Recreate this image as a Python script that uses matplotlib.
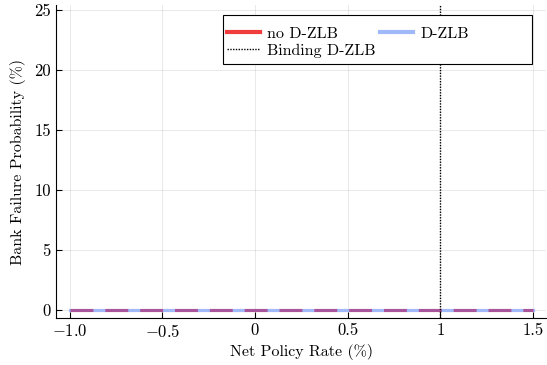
import matplotlib
matplotlib.use('Agg')
import matplotlib.pyplot as plt
from matplotlib.lines import Line2D
from matplotlib.patches import Rectangle

# 値
rates = [-1.0, -0.5, 0.0, 0.5, 1.0, 1.5]
prob_no_dzlb = [0.0, 0.0, 0.0, 0.0, 0.0, 0.0]
prob_dzlb = [0.0, 0.0, 0.0, 0.0, 0.0, 0.0]
binding_rate = 1.0
xtick_vals = [-1.0, -0.5, 0.0, 0.5, 1.0, 1.5]
xtick_labels = ['$-1.0$', '$-0.5$', '0', '0.5', '1', '1.5']
ytick_vals = [0, 5, 10, 15, 20, 25]

plt.rcParams['font.family'] = ['cmr10', 'DejaVu Serif']
plt.rcParams['mathtext.fontset'] = 'cm'
plt.rcParams['axes.unicode_minus'] = False

red = '#f03c3c'
blue = '#a0b9f8'
purple = '#a8559c'

fig = plt.figure(figsize = (5.47, 3.65), dpi = 100)
ax = fig.add_axes([0.102, 0.128, 0.897, 0.858])

ax.plot(rates, prob_no_dzlb, color = red, lw = 2.2)
ax.plot(rates, prob_dzlb, color = blue, lw = 2.2)
ax.plot(rates, prob_no_dzlb, color = purple, lw = 2.2, dashes = (7.5, 3.9))
ax.axvline(binding_rate, color = 'black', lw = 1.0, ls = (0, (1, 1)))

ax.set_xlim(-1.074, 1.572)
ax.set_ylim(-0.72, 25.4)
ax.set_xticks(xtick_vals)
ax.set_xticklabels(xtick_labels)
ax.set_yticks(ytick_vals)
ax.tick_params(direction = 'in', length = 4, width = 0.8, labelsize = 12)
ax.grid(True, color = 'black', alpha = 0.1, lw = 0.6)
for s in ('top', 'right'):
    ax.spines[s].set_visible(False)
ax.set_xlabel('Net Policy Rate (%)', fontsize = 11.5, labelpad = 3)
ax.set_ylabel('Bank Failure Probability (%)', fontsize = 11.5, labelpad = 6)

# 凡例の枠は中身より広いので別に描く
ax.add_patch(Rectangle((0.340, 0.812), 0.630, 0.156, transform = ax.transAxes,
    facecolor = 'white', edgecolor = 'black', lw = 0.8, zorder = 4.5, clip_on = False))

# 凡例は行方向に並べたいので列順で渡す
handles = [Line2D([], [], color = red, lw = 3),
           Line2D([], [], color = 'black', lw = 1.0, ls = (0, (1, 1))),
           Line2D([], [], color = blue, lw = 3)]
labels = ['no D-ZLB', 'Binding D-ZLB', 'D-ZLB']
leg = ax.legend(handles, labels, ncol = 2, loc = 'upper left',
    bbox_to_anchor = (0.349, 0.932), frameon = False, fontsize = 11.5,
    handlelength = 2.07, handletextpad = 0.44, columnspacing = 0.3, borderpad = 0.0,
    borderaxespad = 0.0, labelspacing = 0.17)
leg.set_zorder(5)

fig.savefig('out.png', dpi = 100)
